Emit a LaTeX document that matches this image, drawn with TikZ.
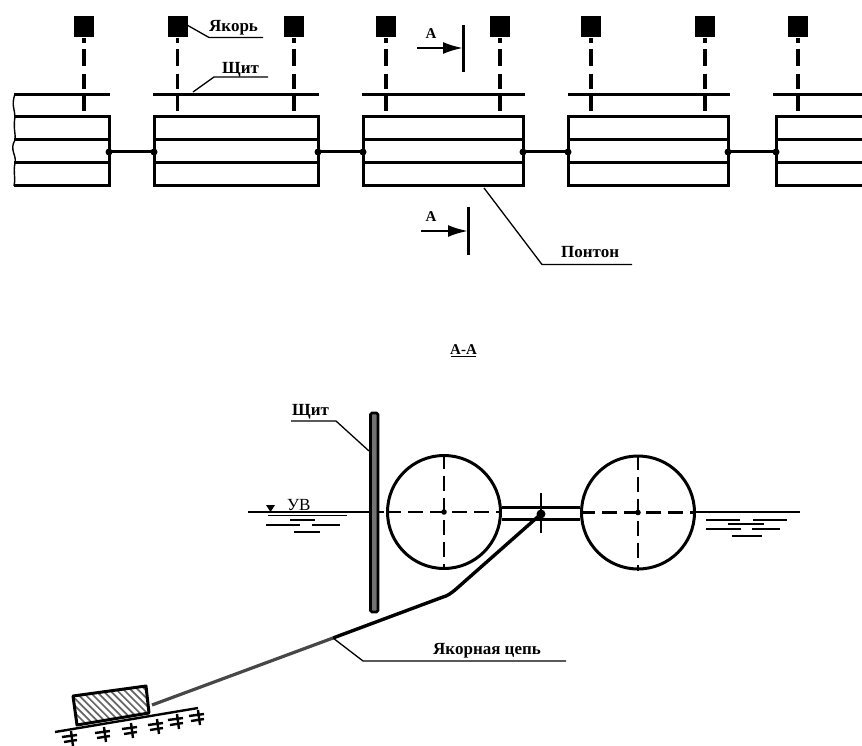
\documentclass[tikz,border=0pt]{standalone}
\usepackage{fontspec}
\setmainfont{Liberation Serif}
\usetikzlibrary{arrows.meta}
\tikzset{
 x=1pt,y=-1pt,
 heavy/.style={line width=3pt},
 thin line/.style={line width=1.3pt},
 anchorbox/.style={fill=black,draw=none,minimum width=20pt,minimum height=21pt,inner sep=0pt},
 chaindash/.style={line width=3.2pt,dash pattern=on 5pt off 6pt on 17pt off 8pt on 15pt off 7pt on 16pt off 10pt},
 lbl/.style={font=\bfseries\fontsize{17}{18}\selectfont,inner sep=0pt},
 small lbl/.style={font=\bfseries\fontsize{15}{16}\selectfont,inner sep=0pt},
 cross/.style={line width=2.8pt,dash pattern=on 15pt off 7pt},
 cutarrow/.style={line width=2.5pt,-{Latex[length=20pt,width=12pt]}},
 ripple/.style={line width=1.3pt},
 groundmark/.style={line width=2.4pt},
}
\newcommand{\anch}[2]{%
 \node[anchorbox] (#1) at (#2,27) {};
 \coordinate (#1e) at (#2,111);
 \draw[chaindash] (#1.south) -- (#1e);
}
\begin{document}
\begin{tikzpicture}
\useasboundingbox (0,0) rectangle (862,746);
% top row
\anch{a1}{84} \anch{a2}{177.5} \anch{a3}{294} \anch{a4}{386}
\anch{a5}{500} \anch{a6}{591} \anch{a7}{705} \anch{a8}{798}
% shields
\foreach \n/\l/\r in {1/14/110,2/153/319,3/362/525,4/568/730,5/773/862}{
 \coordinate (s\n l) at (\l,94.5); \coordinate (s\n r) at (\r,94.5);
 \draw[heavy] (s\n l) -- (s\n r);
}
% pontons
\foreach \n/\l/\r in {2/154/318,3/363/523,4/568/728}{
 \draw[heavy] (\l,117) rectangle (\r,186);
 \draw[heavy] (\l,140) -- (\r,140);
 \draw[heavy] (\l,163) -- (\r,163);
 \coordinate (pl\n) at (\l,152); \coordinate (pr\n) at (\r,152);
}
% left partial
\draw[heavy] (14,117) -- (109,117) -- (109,186) -- (14,186);
\draw[heavy] (14,140) -- (109,140);
\draw[heavy] (14,163) -- (109,163);
\draw[line width=1.4pt] (15,94) .. controls (11,105) and (15,110) .. (15,117) .. controls (13,128) and (16,135) .. (15,140) .. controls (9,150) and (17,155) .. (15,163) .. controls (13,172) and (16,180) .. (14,186);
\coordinate (pr1) at (109,152);
% right partial
\draw[heavy] (862,117) -- (776,117) -- (776,186) -- (862,186);
\draw[heavy] (776,140) -- (862,140);
\draw[heavy] (776,163) -- (862,163);
\coordinate (pl5) at (776,152);
% links
\foreach \a/\b in {pr1/pl2,pr2/pl3,pr3/pl4,pr4/pl5}{
 \draw[heavy] (\a) -- (\b);
 \fill (\a) circle (3.5pt); \fill (\b) circle (3.5pt);
}
% labels top
\node[lbl,anchor=base west] (tY) at (209,32) {Якорь};
\coordinate (yk) at (187,25); \coordinate (yk2) at (209,37.5); \coordinate (yk3) at (263,37.5);
\draw[thin line] (yk) -- (yk2) -- (yk3);
\node[lbl,anchor=base west] (tS) at (222,74) {Щит};
\coordinate (sk) at (193,92); \coordinate (sk2) at (214,77); \coordinate (sk3) at (268,77);
\draw[thin line] (sk) -- (sk2) -- (sk3);
% section marks
\node[small lbl,anchor=base] (A1) at (431,39) {А};
\coordinate (c1t) at (463,25); \coordinate (c1b) at (463,72);
\coordinate (c1s) at (417,48);
\draw[heavy] (c1t) -- (c1b);
\draw[cutarrow] (c1s) -- (463,48);
\node[small lbl,anchor=base] (A2) at (431,222) {А};
\coordinate (c2t) at (468,207); \coordinate (c2b) at (468,255);
\coordinate (c2s) at (421,231);
\draw[heavy] (c2t) -- (c2b);
\draw[cutarrow] (c2s) -- (468,231);
% Ponton label
\node[lbl,anchor=base west] (tP) at (561,258) {Понтон};
\coordinate (pk) at (484,188); \coordinate (pk2) at (542,264.5); \coordinate (pk3) at (632,264.5);
\draw[thin line] (pk) -- (pk2) -- (pk3);
% section title
\node[small lbl,anchor=base] (tAA) at (463.5,354.5) {А-А};
\draw[thin line] (451,356.5) -- (476,356.5);
% section drawing
\draw[line width=2.6pt,fill=black!55,rounded corners=1.5pt] (370.5,413) rectangle (378,612);
\draw[thin line] (248,512) -- (370,512);
\draw[thin line] (696,512) -- (800,512);
\draw[cross,dash pattern=on 6pt off 4pt] (378,512) -- (388,512);
\node[draw,circle,line width=3pt,minimum size=113pt,inner sep=0pt] (c1) at (444,512) {};
\node[draw,circle,line width=3pt,minimum size=113pt,inner sep=0pt] (c2) at (638,512.5) {};
\draw[cross] (c1.west) -- (c1.east);
\draw[cross] (c1.north) -- (c1.south);
\draw[cross] (c2.west) -- (c2.east);
\draw[cross] (c2.north) -- (c2.south);
\fill (c1.center) circle (2.8pt);
\fill (c2.center) circle (2.8pt);
\draw[heavy] (c1.east |- 0,507) -- (c2.west |- 0,507);
\draw[heavy] (c1.east |- 0,519.5) -- (c2.west |- 0,519.5);
\draw[thin line] (541,493) -- (541,533);
% chain
\coordinate (ch1) at (541,514);
\coordinate (ch2) at (443,597);
\coordinate (ch3) at (333,638);
\coordinate (ch4) at (152,705);
\draw[line width=3.4pt,line join=round] (ch1) -- (455,590) .. controls (450,594) and (447,596) .. (ch2) -- (ch3);
\draw[line width=3.2pt,draw=black!72] (ch3) -- (ch4);
\fill (541,514) circle (4.5pt);
% anchor block
\begin{scope}
 \clip (73,696) -- (146,686) -- (149,713) -- (77,725) -- cycle;
 \foreach \i in {0,...,17}{
  \draw[line width=1.7pt,black!60] ({46+\i*7.2},684) -- ++(44,44);
 }
\end{scope}
\draw[line width=3pt,line join=round] (73,696) -- (146,686) -- (149,713) -- (77,725) -- cycle;
% ground
\draw[groundmark] (55,732) -- (198,708);
\foreach \x/\y in {62/737,95/733,122/729,148/725,168/720,189/716}{
 \draw[groundmark] (\x,\y) -- ++(15,-2) (\x+2,\y+5) -- ++(13,-2) (\x+9,\y-6) -- ++(2,15);
}
% labels section
\node[lbl,anchor=base west] (tS2) at (292,415) {Щит};
\coordinate (k1) at (291,421); \coordinate (k2) at (336,421); \coordinate (k3) at (369,451);
\draw[thin line] (k1) -- (k2) -- (k3);
\node[font=\bfseries\fontsize{17}{18}\selectfont,inner sep=0pt,anchor=base west] (tCh) at (433,654) {Якорная цепь};
\coordinate (h1) at (333,638); \coordinate (h2) at (363,661); \coordinate (h3) at (566,661);
\draw[thin line] (h1) -- (h2) -- (h3);
\node[font=\fontsize{17}{18}\selectfont,inner sep=0pt,anchor=base west] (tUV) at (287,510) {УВ};
\fill (266,505) -- (275,505) -- (270.5,512) -- cycle;
\foreach \a/\b/\c in {268/347/515.5,290/315/520,266/300/525,312/340/525,294/320/532}{
 \draw[ripple] (\a,\c) -- (\b,\c);
}
\foreach \a/\b/\c in {706/740/520,753/787/520,728/764/524,706/741/529,752/780/529,732/762/536}{
 \draw[ripple] (\a,\c) -- (\b,\c);
}
\end{tikzpicture}
\end{document}
